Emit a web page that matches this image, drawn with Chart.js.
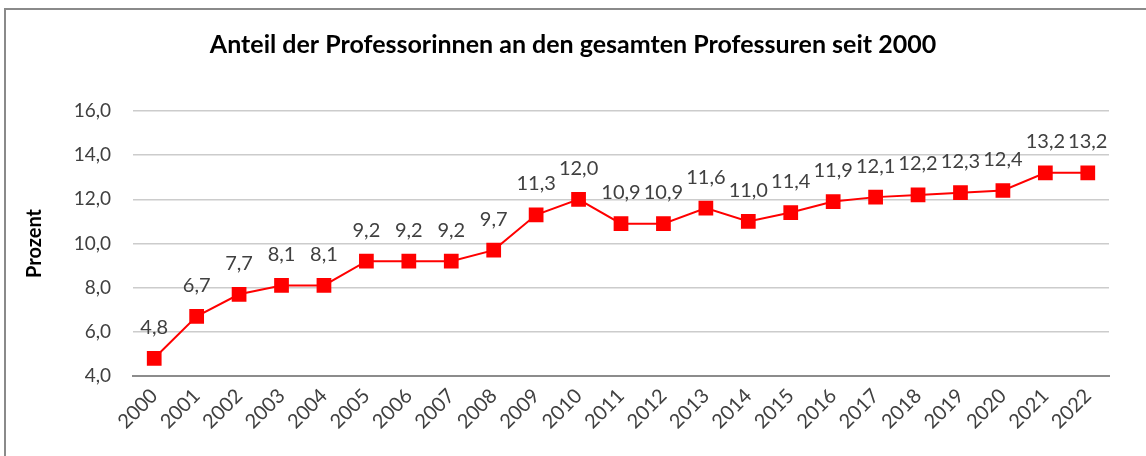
<!DOCTYPE html>
<html>
<head>
<meta charset="utf-8">
<script src="https://cdn.jsdelivr.net/npm/chart.js@4"></script>
<style>
    html, body { margin: 0; padding: 0; background: #ffffff; }
    #frame { position: absolute; left: 4px; top: 8px; width: 1200px; height: 500px; border: 2px solid #8a8a8a; }
    #wrap { position: absolute; left: 0; top: 0; width: 1146px; height: 456px; }
</style>
</head>
<body>
<div id="frame"></div>
<div id="wrap"><canvas id="profChart"></canvas></div>
<script>
const years = ['2000', '2001', '2002', '2003', '2004', '2005', '2006', '2007', '2008', '2009', '2010', '2011',
    '2012', '2013', '2014', '2015', '2016', '2017', '2018', '2019', '2020', '2021', '2022']
const shares = [4.8, 6.7, 7.7, 8.1, 8.1, 9.2, 9.2, 9.2, 9.7, 11.3, 12.0, 10.9,
    10.9, 11.6, 11.0, 11.4, 11.9, 12.1, 12.2, 12.3, 12.4, 13.2, 13.2]
const yMin = 4
const yMax = 16
const yStep = 2

const fontFamily = 'Lato, "Open Sans", sans-serif'
const textColor = '#404040'

function formatDe(value) {
    return Number(value).toFixed(1).replace('.', ',')
}

// simple value labels above each point
const pointLabels = {
    id: 'pointLabels',
    afterDatasetsDraw(chart) {
        const { ctx } = chart
        const meta = chart.getDatasetMeta(0)
        ctx.save()
        ctx.font = `20px ${fontFamily}`
        ctx.fillStyle = textColor
        ctx.textAlign = 'center'
        ctx.textBaseline = 'middle'
        meta.data.forEach((point, index) => {
            ctx.fillText(formatDe(shares[index]), point.x, point.y - 31)
        })
        ctx.restore()
    },
}

new Chart(document.getElementById('profChart'), {
    type: 'line',
    data: {
        labels: years,
        datasets: [{
            label: 'Anteil',
            data: shares,
            borderColor: '#ff0000',
            backgroundColor: '#ff0000',
            borderWidth: 2,
            pointStyle: 'rect',
            pointRadius: 9,
            pointHoverRadius: 9,
            tension: 0,
        }],
    },
    options: {
        responsive: true,
        maintainAspectRatio: false,
        animation: false,
        layout: { padding: 0 },
        plugins: {
            legend: { display: false },
            tooltip: { enabled: false },
            title: {
                display: true,
                text: 'Anteil der Professorinnen an den gesamten Professuren seit 2000',
                color: '#000000',
                font: { family: fontFamily, size: 25, weight: 'bold' },
                padding: { top: 30, bottom: 51 },
            },
        },
        scales: {
            x: {
                offset: true,
                grid: { display: false, drawTicks: false },
                border: { display: true, color: '#8c8c8c', width: 2 },
                ticks: {
                    color: textColor,
                    font: { family: fontFamily, size: 20 },
                    maxRotation: 45,
                    minRotation: 45,
                    padding: 8,
                },
                afterFit: scale => { scale.height = 80 },
            },
            y: {
                min: yMin,
                max: yMax,
                grid: { color: '#cccccc', lineWidth: 1.5, drawTicks: false },
                border: { display: false },
                ticks: {
                    stepSize: yStep,
                    color: textColor,
                    font: { family: fontFamily, size: 19 },
                    padding: 22,
                    callback: value => formatDe(value),
                },
                title: {
                    display: true,
                    text: 'Prozent',
                    color: '#000000',
                    font: { family: fontFamily, size: 20, weight: 'bold' },
                    padding: { top: 23, bottom: 0 },
                },
                afterFit: scale => { scale.width = 133 },
            },
            // empty right-hand space so the title centres on the whole frame
            spacer: {
                position: 'right',
                grid: { display: false, drawTicks: false },
                border: { display: false },
                ticks: { display: false },
                afterFit: scale => { scale.width = 37 },
            },
        },
    },
    plugins: [pointLabels],
})
</script>
</body>
</html>
